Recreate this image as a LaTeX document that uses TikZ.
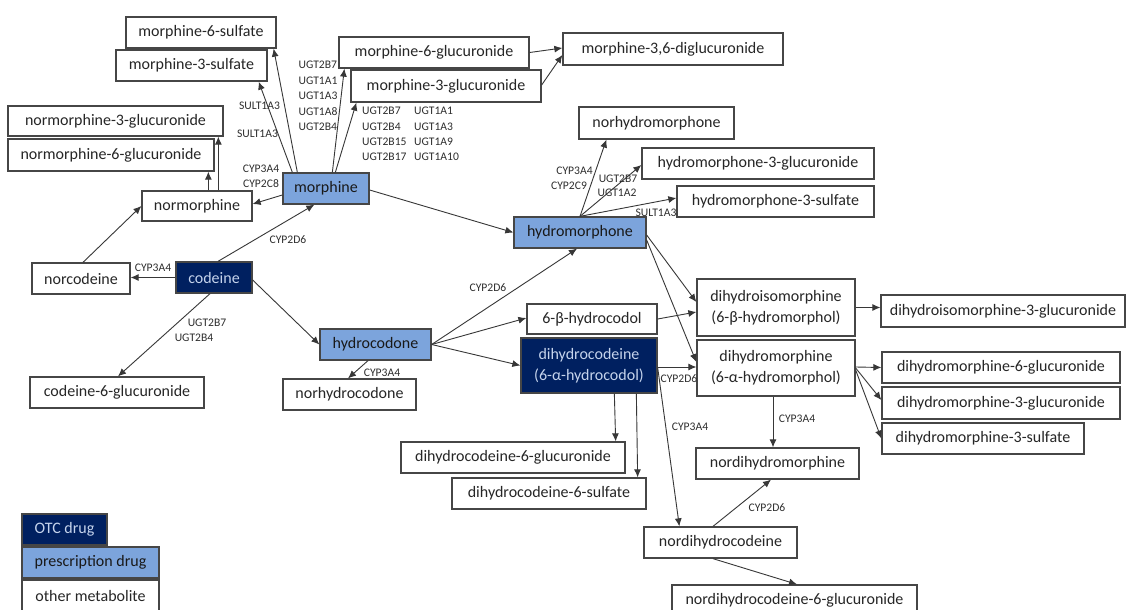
\documentclass[tikz,border=0pt]{standalone}
\usepackage{fontspec}
\setmainfont{Carlito}
\usetikzlibrary{arrows.meta,calc}
\definecolor{otc}{RGB}{0,32,96}
\definecolor{rx}{RGB}{124,164,220}
\definecolor{otctext}{RGB}{197,211,236}
\definecolor{edgec}{RGB}{55,55,55}
\definecolor{bord}{RGB}{70,70,70}
\begin{document}
\begin{tikzpicture}[x=1pt,y=-1pt,
  sz/.style 2 args={minimum width=#1,minimum height=#2},
  box/.style={draw=bord, line width=1.3pt, fill=white, inner sep=0pt, font=\fontsize{16}{21}\selectfont, text=black!85, align=center},
  otcbox/.style={box, fill=otc, text=otctext},
  rxbox/.style={box, fill=rx, text=black!90},
  arr/.style={draw=edgec, line width=0.9pt, -{Latex[length=8pt,width=7pt]}},
  lab/.style={font=\fontsize{11.6}{15.4}\selectfont, text=black!82, inner sep=0pt, align=left},
]
\clip (0,0) rectangle (1127,610);
\fill[white] (0,0) rectangle (1127,610);

% nodes
\node[box, sz={150}{31}] (m6s) at (201,32.5) {morphine-6-sulfate};
\node[box, sz={151}{31}] (m3s) at (191.5,65.5) {morphine-3-sulfate};
\node[box, sz={215}{30}] (nm3g) at (115.5,121) {normorphine-3-glucuronide};
\node[box, sz={206}{32}] (nm6g) at (111,155) {normorphine-6-glucuronide};
\node[rxbox, sz={86}{31}] (mor) at (326,188.5) {morphine};
\node[box, sz={110}{30}] (nmor) at (197,206) {normorphine};
\node[box, sz={190}{31}] (m6g) at (434,52.5) {morphine-6-glucuronide};
\node[box, sz={190}{32}] (m3g) at (446,86) {morphine-3-glucuronide};
\node[box, sz={220}{32}] (m36g) at (673,49) {morphine-3,6-diglucuronide};
\node[box, sz={155}{32}] (nhm) at (656.5,123) {norhydromorphone};
\node[box, sz={232}{31}] (h3g) at (758,163.5) {hydromorphone-3-glucuronide};
\node[box, sz={197}{31}] (h3s) at (775.5,201.5) {hydromorphone-3-sulfate};
\node[rxbox, sz={132}{31}] (hm) at (580,232.5) {hydromorphone};
\node[otcbox, sz={76}{31}] (cod) at (214,277.5) {codeine};
\node[box, sz={98}{31}] (ncod) at (81,278.5) {norcodeine};
\node[box, sz={174}{31}] (c6g) at (117,392.5) {codeine-6-glucuronide};
\node[rxbox, sz={111}{31}] (hc) at (375.5,344.5) {hydrocodone};
\node[box, sz={133}{31}] (nhc) at (349.5,394.5) {norhydrocodone};
\node[box, sz={130}{30}] (bhc) at (592,319) {6-β-hydrocodol};
\node[otcbox, sz={136}{55}] (dhc) at (589,365.5) {dihydrocodeine\\(6-α-hydrocodol)};
\node[box, sz={158}{57}] (dhim) at (776,307.5) {dihydroisomorphine\\(6-β-hydromorphol)};
\node[box, sz={158}{56}] (dhm) at (776,368) {dihydromorphine\\(6-α-hydromorphol)};
\node[box, sz={244}{32}] (dhim3g) at (1003,311) {dihydroisomorphine-3-glucuronide};
\node[box, sz={238}{31}] (dhm6g) at (1001,367.5) {dihydromorphine-6-glucuronide};
\node[box, sz={238}{32}] (dhm3g) at (1001,403) {dihydromorphine-3-glucuronide};
\node[box, sz={202}{31}] (dhm3s) at (983,438.5) {dihydromorphine-3-sulfate};
\node[box, sz={163}{31}] (ndhm) at (777.5,463.5) {nordihydromorphine};
\node[box, sz={224}{31}] (dhc6g) at (513,457.5) {dihydrocodeine-6-glucuronide};
\node[box, sz={194}{31}] (dhc6s) at (549,493.5) {dihydrocodeine-6-sulfate};
\node[box, sz={153}{31}] (ndhc) at (720.5,542.5) {nordihydrocodeine};
\node[box, sz={245}{31}] (ndhc6g) at (794.5,600.5) {nordihydrocodeine-6-glucuronide};

% legend
\node[otcbox, sz={85}{31}] (legotc) at (64.5,529.5) {OTC drug};
\node[rxbox, sz={137}{31}] (legrx) at (90.5,562.5) {prescription drug};
\node[box, sz={137}{31}] (legoth) at (90.5,595.5) {other metabolite};

% connectors
\draw[arr] ($(mor.north west)+(15,0)$) -- ($(m6s.south east)+(-3,0)$);
\draw[arr] ($(mor.north west)+(10,0)$) -- ($(m3s.south east)+(-9,0)$);
\draw[arr] ($(mor.west)+(0,6.5)$) -- ($(nmor.east)+(0,-2)$);
\draw[arr] ($(nmor.north west)+(67,0)$) -- ($(nm6g.south west)+(201,0)$);
\draw[arr] ($(nmor.north west)+(77,0)$) -- ($(nm3g.south west)+(211,0)$);
\draw[arr] ($(mor.north west)+(50,0)$) -- ($(m6g.south west)+(6,0)$);
\draw[arr] ($(mor.north west)+(53,0)$) -- ($(m3g.south west)+(6,0)$);
\draw[arr] (m6g.east) -- ($(m36g.west)+(0,-1)$);
\draw[arr] ($(m3g.east)+(0,-1)$) -- ($(m36g.west)+(0,6)$);
\draw[arr] ($(mor.east)+(0,1.5)$) -- (hm.west);
\draw[arr] (hm.north) -- ($(nhm.south west)+(28,0)$);
\draw[arr] (hm.north) -- ($(h3g.west)+(0,1.5)$);
\draw[arr] (hm.north) -- ($(h3s.west)+(0,-3.5)$);
\draw[arr] (cod.west) -- (cod.west -| ncod.east);
\draw[arr] ($(ncod.north)+(2,0)$) -- (nmor.west);
\draw[arr] ($(cod.north)+(4,0)$) -- ($(mor.south west)+(32,0)$);
\draw[arr] ($(cod.south)+(-4,0)$) -- ($(c6g.north)+(1,0)$);
\draw[arr] ($(cod.east)+(0,2.5)$) -- (hc.west);
\draw[arr] ($(hc.south)+(-7.5,0)$) -- ($(nhc.north)+(-1.5,0)$);
\draw[arr] (hc.east) -- ($(hm.south)+(-3,0)$);
\draw[arr] (hc.east) -- ($(bhc.west)+(0,-1)$);
\draw[arr] (hc.east) -- (dhc.west);
\draw[arr] (bhc.east) -- ($(dhim.west)+(0,4.5)$);
\draw[arr] ($(hm.east)+(0,2.5)$) -- ($(dhim.west)+(0,-5.5)$);
\draw[arr] ($(hm.east)+(0,7.5)$) -- ($(dhm.west)+(0,-6)$);
\draw[arr] ($(dhc.east)+(0,1.5)$) -- ($(dhm.west)+(0,-1)$);
\draw[arr] (dhim.east) -- (dhim.east -| dhim3g.west);
\draw[arr] ($(dhm.east)+(0,-1)$) -- (dhm6g.west);
\draw[arr] (dhm.east) -- ($(dhm3g.west)+(0,-3)$);
\draw[arr] ($(dhm.east)+(0,2)$) -- (dhm3s.west);
\draw[arr] ($(dhm.south)+(-3,0)$) -- ($(ndhm.north)+(-4.5,0)$);
\draw[arr] ($(dhc.east)+(0,2)$) -- ($(ndhc.north west)+(36,0)$);
\draw[arr] ($(dhc.south west)+(94,0)$) -- ($(dhc6g.north east)+(-10,0)$);
\draw[arr] ($(dhc.south west)+(116,0)$) -- ($(dhc6s.north east)+(-9,0)$);
\draw[arr] ($(ndhc.north)+(-7.5,0)$) -- ($(ndhm.south)+(-6.5,0)$);
\draw[arr] ($(ndhc.south)+(-7.5,0)$) -- ($(ndhc6g.north)+(2.5,0)$);

% enzyme labels
\node[lab] (l1) at (259.5,106) {SULT1A3};
\node[lab] (l2) at (257.5,134) {SULT1A3};
\node[lab] (l3) at (261,169) {CYP3A4};
\node[lab] (l4) at (261,184) {CYP2C8};
\node[lab] (l5) at (318,96) {UGT2B7\\UGT1A1\\UGT1A3\\UGT1A8\\UGT2B4};
\node[lab, anchor=west] (l6) at (362,134) {UGT2B7\\UGT2B4\\UGT2B15\\UGT2B17};
\node[lab, anchor=west] (l7) at (414,134) {UGT1A1\\UGT1A3\\UGT1A9\\UGT1A10};
\node[lab] (l8) at (574.5,171) {CYP3A4};
\node[lab] (l9) at (569,186) {CYP2C9};
\node[lab] (l10) at (618,179) {UGT2B7};
\node[lab] (l11) at (617,193) {UGT1A2};
\node[lab] (l12) at (656,213) {SULT1A3};
\node[lab] (l13) at (153,268) {CYP3A4};
\node[lab] (l14) at (288,240) {CYP2D6};
\node[lab] (l15) at (207,323) {UGT2B7};
\node[lab] (l16) at (194,338) {UGT2B4};
\node[lab] (l17) at (382,373) {CYP3A4};
\node[lab] (l18) at (488,288) {CYP2D6};
\node[lab] (l19) at (679,379) {CYP2D6};
\node[lab] (l20) at (797,419) {CYP3A4};
\node[lab] (l21) at (690,427) {CYP3A4};
\node[lab] (l22) at (767,508) {CYP2D6};
\end{tikzpicture}
\end{document}
